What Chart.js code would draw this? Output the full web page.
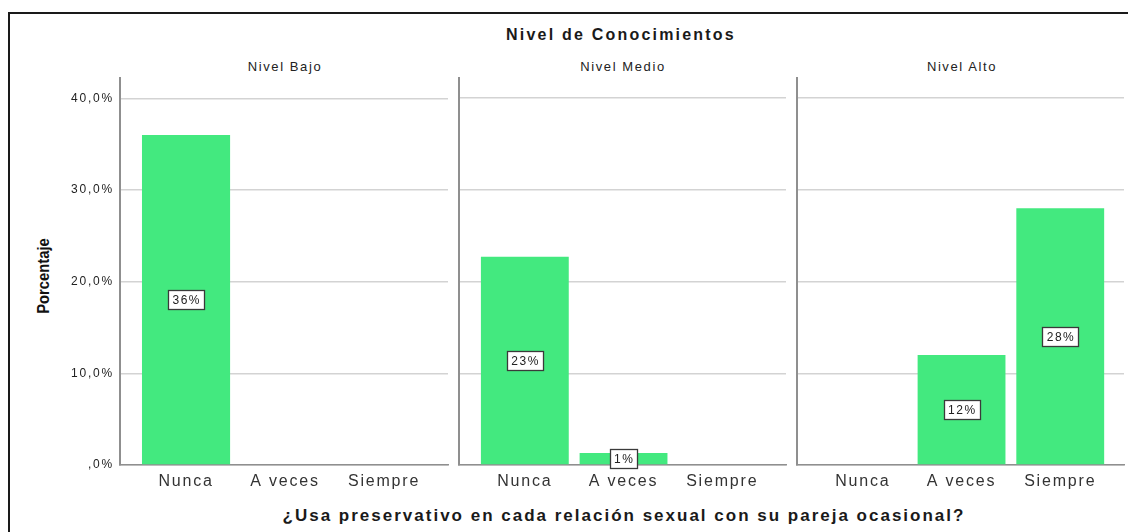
<!DOCTYPE html>
<html>
<head>
<meta charset="utf-8">
<script src="https://cdn.jsdelivr.net/npm/chart.js@4.4.1/dist/chart.umd.min.js"></script>
<style>
  body { margin: 0; background: #fff; width: 1128px; height: 532px; overflow: hidden; position: relative;
         font-family: 'Liberation Sans', Arial, sans-serif; color: #1a1a1a; }
  .frame { position: absolute; left: 8px; top: 12px; width: 1140px; height: 540px; border: 2px solid #1a1a1a; }
  .txt { position: absolute; white-space: nowrap; transform: translate(-50%, -50%); }
  .main { font-size: 16px; font-weight: bold; letter-spacing: 2.2px; }
  .panel { font-size: 13px; letter-spacing: 1.6px; color: #222; }
  .xtitle { font-size: 17px; font-weight: bold; letter-spacing: 2px; }
  .ytitle { font-size: 17px; font-weight: bold; color: #111; transform: translate(-50%, -50%) rotate(-90deg) scaleX(0.87); }
  canvas { position: absolute; }
</style>
</head>
<body>
<div class="frame"></div>
<div class="txt main" style="left:621px; top:35px;">Nivel de Conocimientos</div>
<div class="txt panel" id="p0" style="left:285px; top:66px;"></div>
<div class="txt panel" id="p1" style="left:623px; top:66px;"></div>
<div class="txt panel" id="p2" style="left:962px; top:66px;"></div>
<div class="txt ytitle" style="left:44px; top:276px;">Porcentaje</div>
<div class="txt xtitle" style="left:624px; top:516px;">¿Usa preservativo en cada relación sexual con su pareja ocasional?</div>

<canvas id="c0" width="440" height="430" style="left:10px; top:65px;"></canvas>
<canvas id="c1" width="333" height="425" style="left:455px; top:70px;"></canvas>
<canvas id="c2" width="335" height="425" style="left:793px; top:70px;"></canvas>

<script>
// Data (percent of respondents)
const categories = ['Nunca', 'A veces', 'Siempre'];
const panels = ['Nivel Bajo', 'Nivel Medio', 'Nivel Alto'];
const bajo = [36.0, 0, 0];
const medio = [22.7, 1.3, 0];
const alto = [0, 12.0, 28.0];
const yTicks = [0, 10, 20, 30, 40];

const barColor = '#43E97F';

Chart.defaults.font.family = "'Liberation Sans', Arial, sans-serif";
Chart.defaults.color = '#333';

// SPSS style text is spaced out a bit
const spacing = {
    id: 'spacing',
    beforeDraw(chart) {
        chart.ctx.letterSpacing = '1.8px';
    }
};

// white boxed value labels in the middle of each bar
const boxLabels = {
    id: 'boxLabels',
    afterDatasetsDraw(chart) {
        const ctx = chart.ctx;
        const ds = chart.data.datasets[0];
        chart.getDatasetMeta(0).data.forEach((bar, i) => {
            const v = ds.data[i].y;
            if (!v) return;
            const text = Math.round(v) + '%';
            ctx.save();
            ctx.letterSpacing = '1.5px';
            ctx.font = "12px 'Liberation Sans', Arial, sans-serif";
            const w = Math.round(ctx.measureText(text).width + 7);
            const h = 19;
            const cx = bar.x;
            const cy = (bar.y + bar.base) / 2;
            const x0 = Math.round(cx - w / 2) + 0.5;
            const y0 = Math.round(cy - h / 2) + 0.5;
            ctx.fillStyle = '#fff';
            ctx.fillRect(x0, y0, w, h);
            ctx.strokeStyle = '#3a3a3a';
            ctx.lineWidth = 1.3;
            ctx.strokeRect(x0, y0, w, h);
            ctx.fillStyle = '#222';
            ctx.textAlign = 'center';
            ctx.textBaseline = 'middle';
            ctx.fillText(text, cx + 0.75, cy + 1);
            ctx.restore();
        });
    }
};

function makePanel(id, values, showY, padRight) {
    new Chart(document.getElementById(id), {
        type: 'bar',
        data: {
            datasets: [{
                data: values.map((v, i) => ({ x: i, y: v })),
                backgroundColor: barColor,
                borderWidth: 0,
                categoryPercentage: 1,
                barPercentage: 0.89
            }]
        },
        options: {
            responsive: false,
            animation: false,
            devicePixelRatio: 1,
            layout: { padding: { top: 8, right: padRight, left: 0, bottom: 0 } },
            scales: {
                x: {
                    type: 'linear',
                    min: -0.667,
                    max: 2.646,
                    offset: false,
                    afterBuildTicks: scale => { scale.ticks = categories.map((c, i) => ({ value: i })); },
                    afterFit: scale => { scale.height = 30; },
                    grid: { display: false, drawTicks: false },
                    border: { display: true, color: '#8f8f8f', width: 1.5 },
                    ticks: {
                        autoSkip: false,
                        maxRotation: 0,
                        padding: 7,
                        color: '#333',
                        font: { size: 16 },
                        callback: v => categories[v]
                    }
                },
                y: {
                    min: 0,
                    max: 42.2,
                    afterBuildTicks: scale => { scale.ticks = yTicks.map(v => ({ value: v })); },
                    afterFit: scale => { scale.width = showY ? 110 : 4; },
                    grid: { color: '#d3d3d3', lineWidth: 1.5, drawTicks: false },
                    border: { display: true, color: '#8f8f8f', width: 2 },
                    ticks: {
                        display: showY,
                        padding: 6,
                        color: '#222',
                        font: { size: 12 },
                        callback: v => v === 0 ? ',0%' : v.toFixed(1).replace('.', ',') + '%'
                    }
                }
            },
            plugins: {
                legend: { display: false },
                tooltip: { enabled: false }
            }
        },
        plugins: [spacing, boxLabels]
    });
}

panels.forEach((p, i) => { document.getElementById('p' + i).textContent = p; });

makePanel('c0', bajo, true, 2);
makePanel('c1', medio, false, 2);
makePanel('c2', alto, false, 4);
</script>
</body>
</html>
